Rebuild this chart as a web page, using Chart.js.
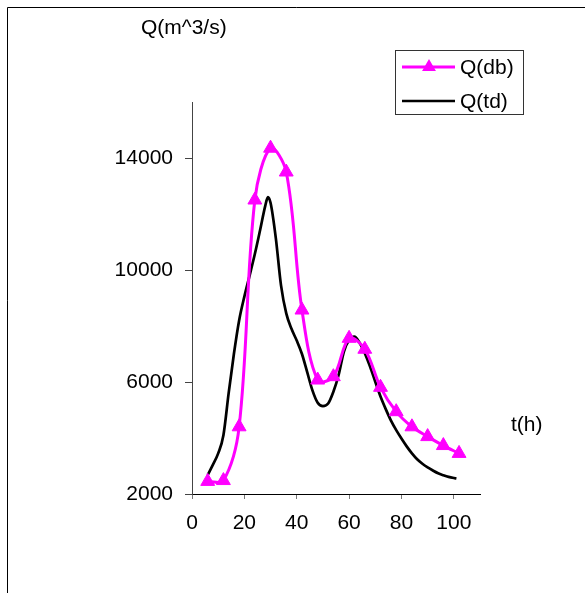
<!DOCTYPE html>
<html>
<head>
<meta charset="utf-8">
<script src="https://cdn.jsdelivr.net/npm/chart.js@4"></script>
<style>
  html, body { margin: 0; padding: 0; background: #fff; }
  canvas { display: block; }
</style>
</head>
<body>
<canvas id="myChart" width="585" height="593"></canvas>
<script>
// measured discharge Q(db), one point every 6 h
const dbTime = [6, 12, 18, 24, 30, 36, 42, 48, 54, 60, 66, 72, 78, 84, 90, 96, 102];
const dbQ = [2450, 2480, 4400, 12500, 14350, 13500, 8570, 6070, 6190, 7560, 7170, 5810, 4940, 4400, 4050, 3730, 3450];

// computed discharge Q(td)
const tdTime = [6, 8, 10, 12, 14, 16, 18, 20, 22, 24, 26, 28, 29, 30, 32, 34, 36, 38, 40, 42, 44, 46, 48, 50,
    52, 54, 56, 58, 60, 62, 64, 66, 68, 70, 72, 74, 76, 78, 80, 82, 84, 86, 88, 90, 92, 94, 96, 98, 100, 101];
const tdQ = [2680, 3050, 3450, 4100, 5600, 7000, 8200, 9050, 9800, 10570, 11420, 12300, 12600, 12400, 11150, 9450,
    8450, 7900, 7480, 7000, 6350, 5700, 5260, 5140, 5230, 5650, 6250, 7080, 7500, 7620, 7400, 7030, 6550, 6010,
    5480, 5030, 4620, 4280, 3980, 3700, 3450, 3240, 3080, 2950, 2840, 2740, 2670, 2610, 2570, 2555];

const xTicks = [0, 20, 40, 60, 80, 100];
const yTicks = [2000, 6000, 10000, 14000];

const yTitle = 'Q(m^3/s)';
const xTitle = 't(h)';
const FONT = "'Liberation Sans', Arial, sans-serif";

function toPoints(xs, ys) {
    return xs.map((x, i) => ({ x: x, y: ys[i] }));
}

function triangle(ctx, x, y, r) {
    ctx.beginPath();
    ctx.moveTo(x, y - r);
    ctx.lineTo(x + Math.sin(2 * Math.PI / 3) * r, y + r / 2);
    ctx.lineTo(x - Math.sin(2 * Math.PI / 3) * r, y + r / 2);
    ctx.closePath();
    ctx.fill();
}

// frame, axis captions and the boxed legend
const decorations = {
    id: 'decorations',
    beforeDraw(chart) {
        let ctx = chart.ctx;
        ctx.save();
        ctx.fillStyle = '#fff';
        ctx.fillRect(0, 0, chart.width, chart.height);
        ctx.strokeStyle = '#000';
        ctx.lineWidth = 1;
        ctx.beginPath();
        ctx.moveTo(7.5, chart.height);
        ctx.lineTo(7.5, 7.5);
        ctx.lineTo(chart.width, 7.5);
        ctx.stroke();
        ctx.restore();
    },
    afterDraw(chart) {
        let ctx = chart.ctx;
        ctx.save();
        ctx.fillStyle = '#000';
        ctx.font = '21px ' + FONT;
        ctx.textAlign = 'left';
        ctx.textBaseline = 'middle';
        ctx.fillText(yTitle, 141, 28);
        ctx.fillText(xTitle, 511, 425);

        // legend box
        ctx.strokeStyle = '#333';
        ctx.lineWidth = 1;
        ctx.strokeRect(395.5, 50.5, 128, 64);
        let rows = [67, 101];
        chart.data.datasets.forEach(function (ds, i) {
            let y = rows[i];
            ctx.strokeStyle = ds.borderColor;
            ctx.lineWidth = ds.borderWidth;
            ctx.beginPath();
            ctx.moveTo(402, y);
            ctx.lineTo(455, y);
            ctx.stroke();
            if (ds.pointRadius > 0) {
                ctx.fillStyle = ds.pointBackgroundColor;
                triangle(ctx, 429, y, ds.pointRadius);
            }
            ctx.fillStyle = '#000';
            ctx.fillText(ds.label, 460, y + 1);
        });
        ctx.restore();
    }
};

let ctx = document.getElementById('myChart');
let myChart = new Chart(ctx, {
    type: 'line',
    data: {
        datasets: [{
            label: 'Q(db)',
            data: toPoints(dbTime, dbQ),
            borderColor: '#ff00ff',
            backgroundColor: '#ff00ff',
            borderWidth: 3,
            pointStyle: 'triangle',
            pointRadius: 8,
            pointBackgroundColor: '#ff00ff',
            pointBorderColor: '#ff00ff',
            pointBorderWidth: 1,
            tension: 0.35,
            fill: false
        }, {
            label: 'Q(td)',
            data: toPoints(tdTime, tdQ),
            borderColor: '#000000',
            borderWidth: 2.7,
            pointRadius: 0,
            cubicInterpolationMode: 'monotone',
            fill: false
        }]
    },
    options: {
        responsive: false,
        animation: false,
        events: [],
        layout: {
            padding: { left: 0, top: 102, right: 105, bottom: 0 }
        },
        plugins: {
            legend: { display: false },
            tooltip: { enabled: false },
            title: { display: false }
        },
        scales: {
            x: {
                type: 'linear',
                min: 0,
                max: 110,
                afterBuildTicks: function (scale) {
                    scale.ticks = xTicks.map(v => ({ value: v }));
                },
                afterFit: function (scale) {
                    scale.height = 99;
                },
                grid: {
                    drawOnChartArea: false,
                    drawTicks: true,
                    tickLength: 5,
                    color: '#777'
                },
                border: { display: true, color: '#000', width: 1 },
                ticks: {
                    color: '#000',
                    padding: 12,
                    maxRotation: 0,
                    font: { family: FONT, size: 21 }
                }
            },
            y: {
                min: 2000,
                max: 16000,
                afterBuildTicks: function (scale) {
                    scale.ticks = yTicks.map(v => ({ value: v }));
                },
                afterFit: function (scale) {
                    scale.width = 192;
                },
                grid: {
                    drawOnChartArea: false,
                    drawTicks: true,
                    tickLength: 7,
                    color: '#444'
                },
                border: { display: true, color: '#444', width: 1 },
                ticks: {
                    color: '#000',
                    padding: 12,
                    font: { family: FONT, size: 21 },
                    callback: function (value) {
                        return String(value);
                    }
                }
            }
        }
    },
    plugins: [decorations]
});
</script>
</body>
</html>
